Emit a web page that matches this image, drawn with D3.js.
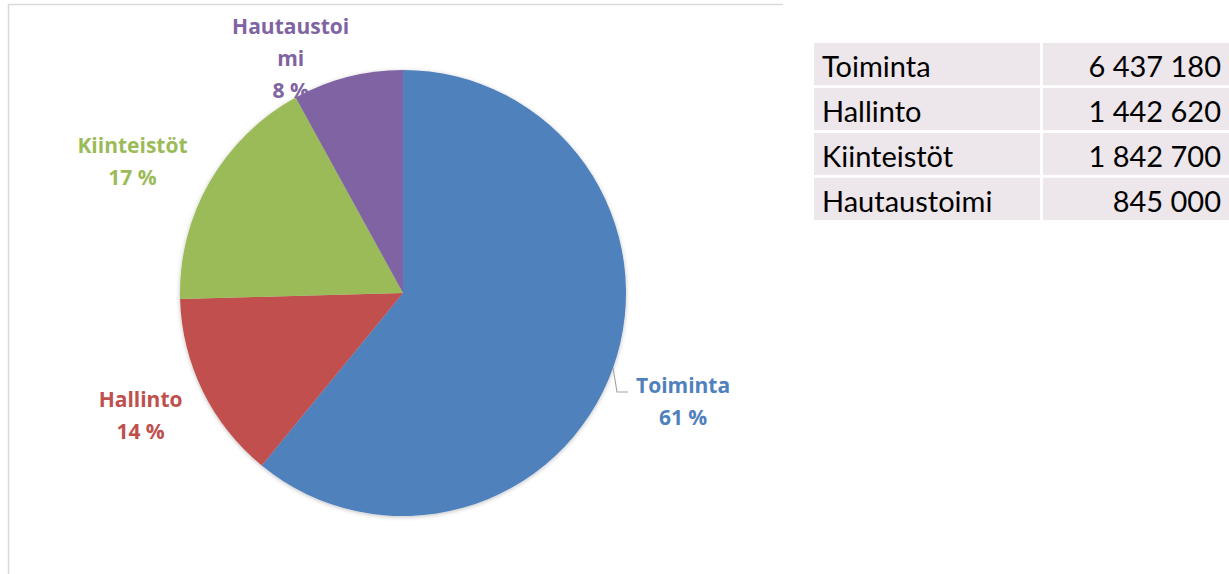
<!DOCTYPE html>
<html>
<head>
<meta charset="utf-8">
<script src="https://cdn.jsdelivr.net/npm/d3@7"></script>
<style>
  body { margin: 0; background: #fff; }
  svg { display: block; }
</style>
</head>
<body>
<svg id="chart" width="1229" height="574"></svg>
<script>
const categories = ["Toiminta", "Hallinto", "Kiinteistöt", "Hautaustoimi"];
const values = [6437180, 1442620, 1842700, 845000];
const valueLabels = ["6 437 180", "1 442 620", "1 842 700", "845 000"];
const colors = ["#4f81bd", "#c0504d", "#9bbb59", "#8064a2"];

// label text lines per slice (Excel wrapped the last one mid-word)
const labelLines = [["Toiminta"], ["Hallinto"], ["Kiinteistöt"], ["Hautaustoi", "mi"]];

let width = 1229,
    height = 574;

const cx = 403, cy = 293, r = 223;

const svg = d3.select("#chart");

// chart frame (partly visible)
svg.append("path")
  .attr("d", "M8.5," + height + "V4.5H783")
  .attr("fill", "none")
  .attr("stroke", "#d9d9d9")
  .attr("stroke-width", 1.5);

const defs = svg.append("defs");
const f = defs.append("filter").attr("id", "shadow")
  .attr("x", "-10%").attr("y", "-10%").attr("width", "120%").attr("height", "120%");
f.append("feDropShadow").attr("dx", 0).attr("dy", 1).attr("stdDeviation", 2)
  .attr("flood-color", "#000").attr("flood-opacity", 0.25);

const total = d3.sum(values);
const pie = d3.pie().sort(null).value(d => d);
const arcs = pie(values);
const arc = d3.arc().innerRadius(0).outerRadius(r);

const g = svg.append("g").attr("transform", `translate(${cx},${cy})`);

g.append("g").attr("filter", "url(#shadow)")
  .selectAll("path")
  .data(arcs)
  .enter()
  .append("path")
  .attr("d", arc)
  .attr("fill", (d, i) => colors[i]);

// label anchor: radius and angle tweak per slice, like Excel's manual placement
const labelLayout = [
  { rad: 300, dAng: -1.5, dx: -5, dy: 16 },
  { rad: 292, dAng: 1.5, dx: 3, dy: 1 },
  { rad: 315, dAng: -4, dx: 13, dy: 6 },
  { rad: 262, dAng: -11, dx: 0, dy: 3 }
];

const lineH = 32;
const pct = d => Math.round(d / total * 100) + " %";

arcs.forEach((a, i) => {
  const L = labelLayout[i];
  const mid = (a.startAngle + a.endAngle) / 2 + L.dAng * Math.PI / 180;
  const lx = Math.sin(mid) * L.rad + L.dx;
  const ly = -Math.cos(mid) * L.rad + L.dy;
  const lines = labelLines[i].concat([pct(values[i])]);
  const t = g.append("text")
    .attr("text-anchor", "middle")
    .attr("font-family", "'Open Sans', sans-serif")
    .attr("font-weight", "bold")
    .attr("font-size", 21)
    .attr("fill", colors[i]);
  lines.forEach((s, j) => {
    t.append("tspan")
      .attr("x", lx)
      .attr("y", ly + (j - (lines.length - 1) / 2) * lineH + 7)
      .text(s);
  });
});

// leader line for Toiminta
const leadAng = (arcs[0].startAngle + arcs[0].endAngle) / 2;
const p0 = [Math.sin(leadAng) * r, -Math.cos(leadAng) * r];
g.append("path")
  .attr("d", d3.line()([[p0[0], p0[1]], [p0[0] + 4, p0[1] + 24], [p0[0] + 15, p0[1] + 24]]))
  .attr("fill", "none")
  .attr("stroke", "#a6a6a6")
  .attr("stroke-width", 1.2);

// value table
const tx0 = 814, tx1 = 1040, tx2 = 1043, tx3 = 1229;
const rowY = d3.scaleBand().domain(categories).range([43, 220]).paddingInner(0.06);

const rows = svg.append("g").selectAll("g")
  .data(categories)
  .enter()
  .append("g")
  .attr("transform", d => `translate(0,${rowY(d)})`);

rows.append("rect").attr("x", tx0).attr("width", tx1 - tx0)
  .attr("height", rowY.bandwidth()).attr("fill", "#ede6ea");
rows.append("rect").attr("x", tx2).attr("width", tx3 - tx2)
  .attr("height", rowY.bandwidth()).attr("fill", "#ede6ea");

rows.append("text")
  .attr("x", 822)
  .attr("y", rowY.bandwidth() / 2 + 13)
  .attr("font-family", "Lato, sans-serif")
  .attr("font-size", 29)
  .attr("fill", "#000")
  .text(d => d);

rows.append("text")
  .attr("x", 1221)
  .attr("y", rowY.bandwidth() / 2 + 13)
  .attr("text-anchor", "end")
  .attr("font-family", "Lato, sans-serif")
  .attr("font-size", 29)
  .attr("fill", "#000")
  .text((d, i) => valueLabels[i]);
</script>
</body>
</html>
